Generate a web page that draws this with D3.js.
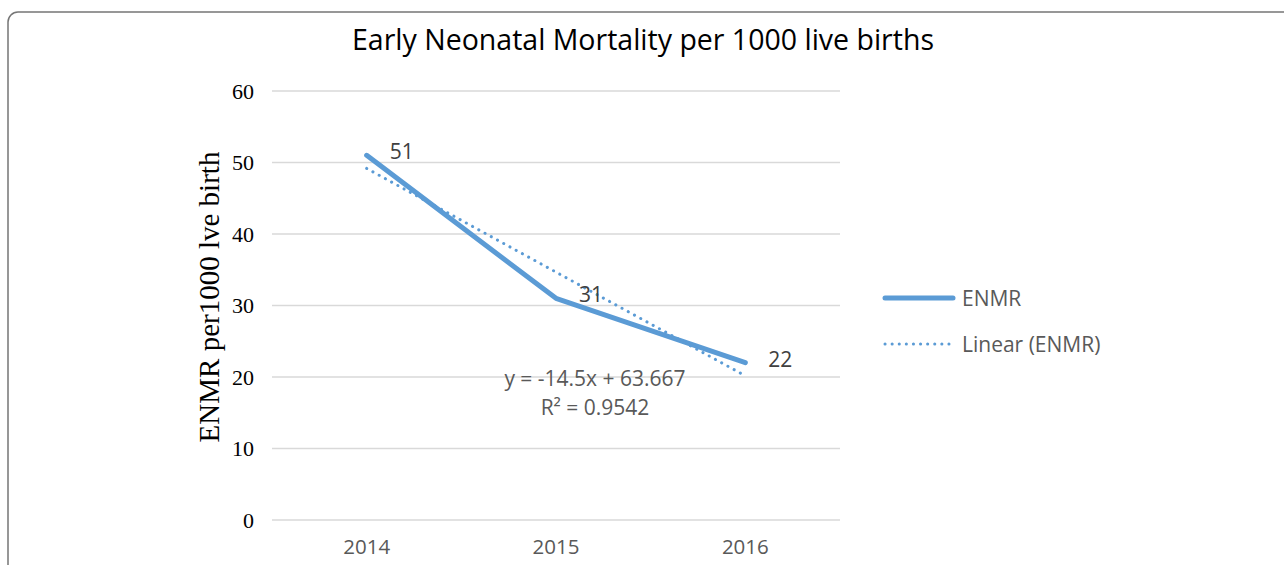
<!DOCTYPE html>
<html>
<head>
<meta charset="utf-8">
<script src="https://cdn.jsdelivr.net/npm/d3@7"></script>
<style>
    body { margin: 0; background: #fff; }
    svg { display: block; }
</style>
</head>
<body>
<div id="chart"></div>
<script>
// data
var years = ["2014", "2015", "2016"];
var enmr = [51, 31, 22];
var trendValues = [49.17, 34.67, 20.17]; // y = -14.5x + 63.667
var yTicks = [0, 10, 20, 30, 40, 50, 60];
var equationText = ["y = -14.5x + 63.667", "R² = 0.9542"];
var legendNames = ["ENMR", "Linear (ENMR)"];

var W = 1284, H = 565;
var margin = {top: 91, left: 272, right: 444},
    width = W - margin.left - margin.right,
    plotH = 429;

var blue = "#5b9bd5";
var sansFont = "'Open Sans', 'Noto Sans', sans-serif";
var serifFont = "'Liberation Serif', 'DejaVu Serif', serif";

var svg = d3.select("#chart").append("svg")
    .attr("width", W)
    .attr("height", H);

// outer frame (runs past the right and bottom edge)
svg.append("rect")
    .attr("x", 8).attr("y", 12)
    .attr("width", 1320).attr("height", 620)
    .attr("rx", 10)
    .attr("fill", "none")
    .attr("stroke", "#767676")
    .attr("stroke-width", 1.5);

svg.append("text")
    .attr("x", 643).attr("y", 50)
    .attr("text-anchor", "middle")
    .style("font-family", sansFont)
    .style("font-size", "28.5px")
    .attr("fill", "#000")
    .text("Early Neonatal Mortality per 1000 live births");

var g = svg.append("g")
    .attr("transform", "translate(" + margin.left + "," + margin.top + ")");

var x = d3.scaleBand().domain(years).range([0, width]);
var y = d3.scaleLinear().domain([0, 60]).range([plotH, 0]);

// gridlines
g.append("g").selectAll("line")
    .data(yTicks)
    .enter().append("line")
    .attr("x1", 0).attr("x2", width)
    .attr("y1", function (d) { return y(d); })
    .attr("y2", function (d) { return y(d); })
    .attr("stroke", "#d9d9d9")
    .attr("stroke-width", 1.5);

// y axis labels
var yAxis = g.append("g")
    .call(d3.axisLeft(y).tickValues(yTicks).tickSize(0).tickPadding(18));
yAxis.select(".domain").remove();
yAxis.selectAll("text")
    .style("font-family", serifFont)
    .style("font-size", "22px")
    .attr("fill", "#000");

// x axis labels
var xAxis = g.append("g")
    .attr("transform", "translate(0," + y(0) + ")")
    .call(d3.axisBottom(x).tickSize(0).tickPadding(19));
xAxis.select(".domain").remove();
xAxis.selectAll("text")
    .style("font-family", sansFont)
    .style("font-size", "20.5px")
    .attr("fill", "#595959");

// y axis title
svg.append("text")
    .attr("transform", "translate(219,297) rotate(-90)")
    .attr("text-anchor", "middle")
    .style("font-family", serifFont)
    .style("font-size", "29px")
    .attr("fill", "#000")
    .text("ENMR per1000 lve birth");

var cx = function (d, i) { return x(years[i]) + x.bandwidth() / 2; };

var line = d3.line()
    .x(function (d, i) { return cx(d, i); })
    .y(function (d) { return y(d); });

// data line
g.append("path")
    .datum(enmr)
    .attr("d", line)
    .attr("fill", "none")
    .attr("stroke", blue)
    .attr("stroke-width", 5)
    .attr("stroke-linecap", "round")
    .attr("stroke-linejoin", "round");

// linear trendline
g.append("path")
    .datum(trendValues)
    .attr("d", line)
    .attr("fill", "none")
    .attr("stroke", blue)
    .attr("stroke-width", 3)
    .attr("stroke-dasharray", "0.1,7")
    .attr("stroke-linecap", "round");

// data labels
g.selectAll(".dlabel")
    .data(enmr)
    .enter().append("text")
    .attr("class", "dlabel")
    .attr("x", function (d, i) { return cx(d, i) + 23; })
    .attr("y", function (d) { return y(d) + 4; })
    .style("font-family", sansFont)
    .style("font-size", "21px")
    .attr("fill", "#404040")
    .text(function (d) { return d; });

// trendline equation
g.selectAll(".eq")
    .data(equationText)
    .enter().append("text")
    .attr("class", "eq")
    .attr("x", 323)
    .attr("y", function (d, i) { return 295 + i * 29; })
    .attr("text-anchor", "middle")
    .style("font-family", sansFont)
    .style("font-size", "21px")
    .attr("fill", "#595959")
    .text(function (d) { return d; });

// legend
var legend = svg.append("g").attr("transform", "translate(885,298)");
var items = legend.selectAll("g")
    .data(legendNames)
    .enter().append("g")
    .attr("transform", function (d, i) { return "translate(0," + (i * 46) + ")"; });
items.append("line")
    .attr("x1", 0).attr("x2", function (d, i) { return i === 0 ? 68 : 64; })
    .attr("y1", 0).attr("y2", 0)
    .attr("stroke", blue)
    .attr("stroke-width", function (d, i) { return i === 0 ? 5 : 3; })
    .attr("stroke-linecap", "round")
    .attr("stroke-dasharray", function (d, i) { return i === 0 ? null : "0.1,7"; });
items.append("text")
    .attr("x", 77)
    .attr("y", 8)
    .style("font-family", sansFont)
    .style("font-size", "21px")
    .attr("fill", "#595959")
    .text(function (d) { return d; });
</script>
</body>
</html>
